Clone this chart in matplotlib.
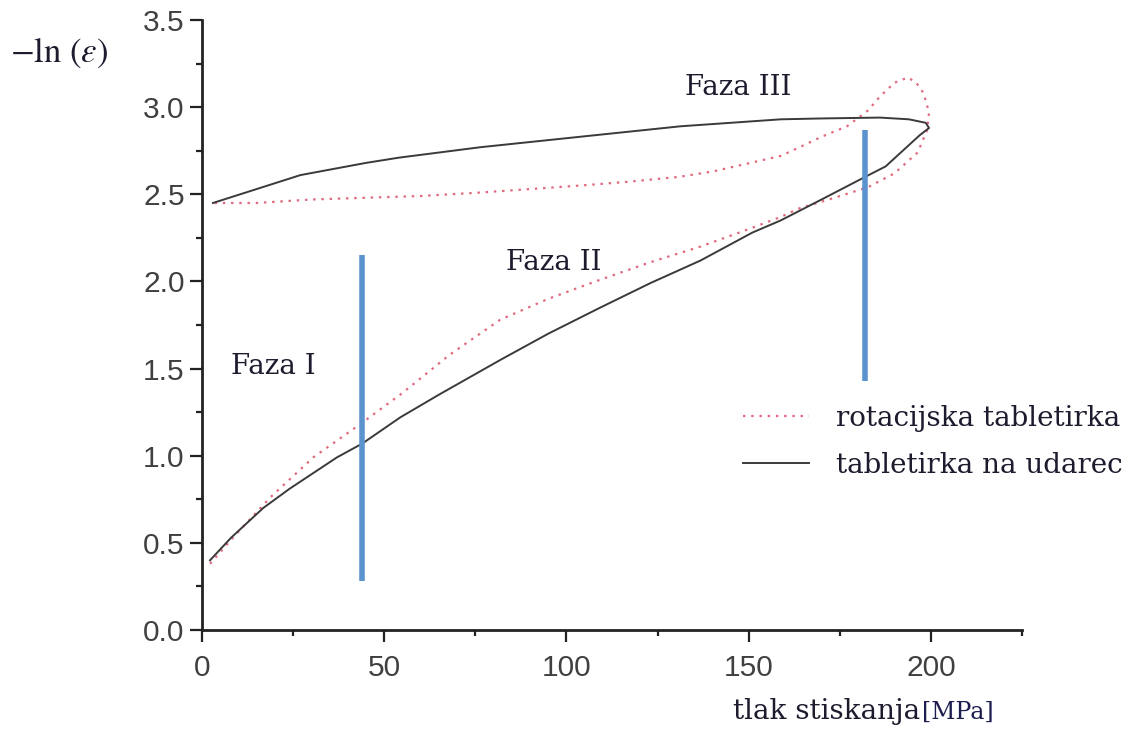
import matplotlib
matplotlib.use("Agg")
import matplotlib.pyplot as plt
from matplotlib.ticker import MultipleLocator, FormatStrFormatter

plt.rcParams.update({
    "font.family": "sans-serif",
    "font.sans-serif": ["Liberation Sans", "DejaVu Sans"],
    "mathtext.fontset": "stix",
})

# impact press: loading branch then unloading branch (x in MPa, y = -ln(eps))
impact_x = [2.2, 8, 16.8, 24, 30.5, 37, 44, 54.4, 65, 81.9, 95, 109.3, 123, 136.8,
            151, 158.8, 170, 182, 187.6, 197, 199.5,
            198.6, 194, 186, 170, 158.8, 131.3, 103.8, 76.4, 54, 45, 27, 15, 3]
impact_y = [0.40, 0.53, 0.70, 0.81, 0.90, 0.99, 1.07, 1.22, 1.35, 1.55, 1.70, 1.85, 1.99, 2.12,
            2.28, 2.35, 2.47, 2.60, 2.66, 2.84, 2.88,
            2.91, 2.93, 2.94, 2.935, 2.93, 2.89, 2.83, 2.77, 2.71, 2.68, 2.61, 2.53, 2.45]

# rotary press
rotary_x = [2.2, 8.5, 18.7, 30.5, 44, 55, 68, 81.8, 95, 109.3, 123, 136.8, 150, 158.8,
            164, 172, 182.7, 190, 196.4, 199, 199.5, 198, 196, 193.7, 190, 186, 182.7,
            177, 170, 164, 158.8, 150.5, 140, 131, 116, 103.8, 90, 76.4, 60, 45, 30, 15, 3]
rotary_y = [0.38, 0.53, 0.76, 0.99, 1.19, 1.36, 1.58, 1.78, 1.90, 2.01, 2.11, 2.20, 2.30, 2.37,
            2.42, 2.47, 2.54, 2.62, 2.74, 2.87, 2.97, 3.08, 3.14, 3.17, 3.14, 3.06, 2.98,
            2.89, 2.83, 2.77, 2.72, 2.68, 2.63, 2.60, 2.57, 2.55, 2.53, 2.51, 2.49, 2.48, 2.47, 2.45, 2.45]

# phase boundaries: (x, y_bottom, y_top)
phase_lines = [(44, 0.28, 2.15), (182, 1.43, 2.87)]
phase_labels = ["Faza I", "Faza II", "Faza III"]
phase_pos = [(19.5, 1.51), (96.4, 2.11), (147, 3.11)]

txt_color = "#1c1c2e"
serif = ["DejaVu Serif"]

fig = plt.figure(figsize=(11.33, 7.29), dpi=100)
ax = fig.add_axes([0.1783, 0.1358, 0.7237, 0.8368])

ax.plot(rotary_x, rotary_y, color="#e06a80", lw=1.6, ls=(0, (1.1, 2.6)),
        label="rotacijska tabletirka")
ax.plot(impact_x, impact_y, color="#3a3a3a", lw=1.4, label="tabletirka na udarec")

for x, y0, y1 in phase_lines:
    ax.plot([x, x], [y0, y1], color="#5b93cf", lw=4, solid_capstyle="butt")

for lab, (x, y) in zip(phase_labels, phase_pos):
    ax.text(x, y, lab, ha="center", va="center", fontsize=20, color=txt_color,
            family=serif)

ax.set_xlim(0, 225)
ax.set_ylim(0, 3.5)
ax.set_xticks([0, 50, 100, 150, 200])
ax.xaxis.set_minor_locator(MultipleLocator(25))
ax.yaxis.set_major_locator(MultipleLocator(0.5))
ax.yaxis.set_minor_locator(MultipleLocator(0.25))
ax.yaxis.set_major_formatter(FormatStrFormatter("%.1f"))

for s in ("top", "right"):
    ax.spines[s].set_visible(False)
for s in ("left", "bottom"):
    ax.spines[s].set_linewidth(2)
    ax.spines[s].set_color("#222222")
ax.tick_params(which="major", length=8.5, width=1.6, color="#222222",
               labelsize=21.5, labelcolor="#404040", pad=4)
ax.tick_params(which="minor", length=4.5, width=1.6, color="#222222")
ax.tick_params(axis="x", which="major", pad=9)

fig.text(0.009, 0.927, r"$-\mathrm{ln}\ (\varepsilon)$", fontsize=25, color=txt_color,
         ha="left", va="center")
fig.text(0.647, 0.024, "tlak stiskanja", fontsize=20, color=txt_color,
         family=serif, ha="left", va="center")
fig.text(0.814, 0.023, "[MPa]", fontsize=17, color="#1c1c50",
         family=serif, ha="left", va="center")

leg = ax.legend(loc="upper left", bbox_to_anchor=(0.629, 0.41), frameon=False,
                prop={"family": serif, "size": 20}, handlelength=2.4,
                handletextpad=0.95, labelspacing=0.72, labelcolor=txt_color)

fig.savefig("out.png", dpi=100)
